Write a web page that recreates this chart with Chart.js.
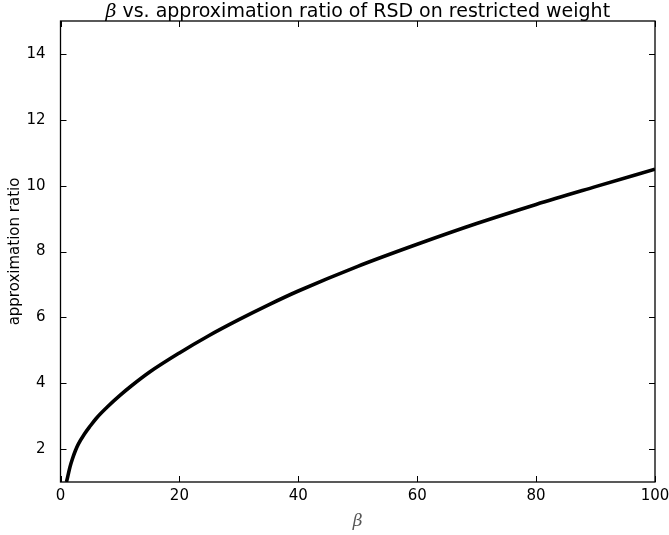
<!DOCTYPE html>
<html>
<head>
<meta charset="utf-8">
<script src="https://cdn.jsdelivr.net/npm/chart.js@4/dist/chart.umd.min.js"></script>
<style>
  html, body { margin: 0; padding: 0; background: #fff; }
  #wrap { width: 669px; height: 535px; }
</style>
</head>
<body>
<div id="wrap"><canvas id="ratioChart" width="669" height="535"></canvas></div>
<script>
// values
const betaValues = [1, 1.2, 1.6, 2, 2.5, 3, 4, 5, 6, 8, 10, 12, 15, 20, 25, 30, 35, 40, 50, 60, 70, 80, 90, 100];
const ratioValues = [1.0, 1.15, 1.46, 1.7, 1.95, 2.15, 2.45, 2.7, 2.93, 3.3, 3.63, 3.93, 4.34, 4.92, 5.45, 5.93, 6.38, 6.8, 7.55, 8.22, 8.85, 9.43, 9.97, 10.5];
const xTicks = [0, 20, 40, 60, 80, 100];
const yTicks = [2, 4, 6, 8, 10, 12, 14];

const SANS = '"DejaVu Sans", sans-serif';
const SERIF = '"DejaVu Serif", serif';

// title, axis frame and inward ticks like the matplotlib classic style
const framePlugin = {
    id: 'frame',
    afterDraw(chart) {
        const c = chart.ctx;
        const a = chart.chartArea;
        const xs = chart.scales.x, ys = chart.scales.y;
        c.save();
        c.strokeStyle = '#000';
        c.lineWidth = 1.3;
        c.strokeRect(a.left, a.top, a.right - a.left, a.bottom - a.top);

        c.lineWidth = 1;
        const len = 6;
        c.beginPath();
        xTicks.forEach(v => {
            const px = Math.round(xs.getPixelForValue(v)) + 0.5;
            c.moveTo(px, a.bottom); c.lineTo(px, a.bottom - len);
            c.moveTo(px, a.top); c.lineTo(px, a.top + len);
        });
        yTicks.forEach(v => {
            const py = Math.round(ys.getPixelForValue(v)) + 0.5;
            c.moveTo(a.left, py); c.lineTo(a.left + len, py);
            c.moveTo(a.right, py); c.lineTo(a.right - len, py);
        });
        c.stroke();

        // title: math beta + plain text
        const betaFont = 'italic 19px ' + SERIF;
        const textFont = '19px ' + SANS;
        const rest = ' vs. approximation ratio of RSD on restricted weight';
        c.font = betaFont;
        const wb = c.measureText('\u03b2').width;
        c.font = textFont;
        const wr = c.measureText(rest).width;
        const cx = (a.left + a.right) / 2;
        const x0 = cx - (wb + wr) / 2;
        c.fillStyle = '#000';
        c.textBaseline = 'alphabetic';
        c.textAlign = 'left';
        c.font = betaFont;
        c.fillText('\u03b2', x0, 17);
        c.font = textFont;
        c.fillText(rest, x0 + wb, 17);

        // x axis label
        c.font = 'italic 17px ' + SERIF;
        c.fillStyle = '#555';
        c.textAlign = 'center';
        c.fillText('\u03b2', cx, 526);
        c.restore();
    }
};

const ctx = document.getElementById('ratioChart').getContext('2d');
const ratioChart = new Chart(ctx, {
    type: 'line',
    data: {
        datasets: [{
            data: betaValues.map((b, i) => ({ x: b, y: ratioValues[i] })),
            borderColor: '#000',
            borderWidth: 3.6,
            pointRadius: 0,
            cubicInterpolationMode: 'monotone',
            fill: false
        }]
    },
    options: {
        responsive: false,
        animation: false,
        layout: { padding: { top: 21, right: 14, left: 0, bottom: 0 } },
        plugins: {
            legend: { display: false },
            tooltip: { enabled: false },
            title: { display: false }
        },
        scales: {
            x: {
                type: 'linear',
                min: 0,
                max: 100,
                grid: { display: false },
                border: { display: false },
                afterBuildTicks: s => { s.ticks = xTicks.map(v => ({ value: v })); },
                afterFit: s => { s.height = 53; s.paddingLeft = 0; s.paddingRight = 0; },
                ticks: { color: '#000', padding: -3, maxRotation: 0, font: { family: SANS, size: 15 } },
                title: { display: false }
            },
            y: {
                type: 'linear',
                min: 1,
                max: 15,
                grid: { display: false },
                border: { display: false },
                afterBuildTicks: s => { s.ticks = yTicks.map(v => ({ value: v })); },
                afterFit: s => { s.width = 60.5; s.paddingTop = 0; s.paddingBottom = 0; },
                ticks: { color: '#000', padding: 7, font: { family: SANS, size: 15 } },
                title: {
                    display: true,
                    text: 'approximation ratio',
                    color: '#000',
                    padding: { top: 6, bottom: 4 },
                    font: { family: SANS, size: 15 }
                }
            }
        }
    },
    plugins: [framePlugin]
});
</script>
</body>
</html>
